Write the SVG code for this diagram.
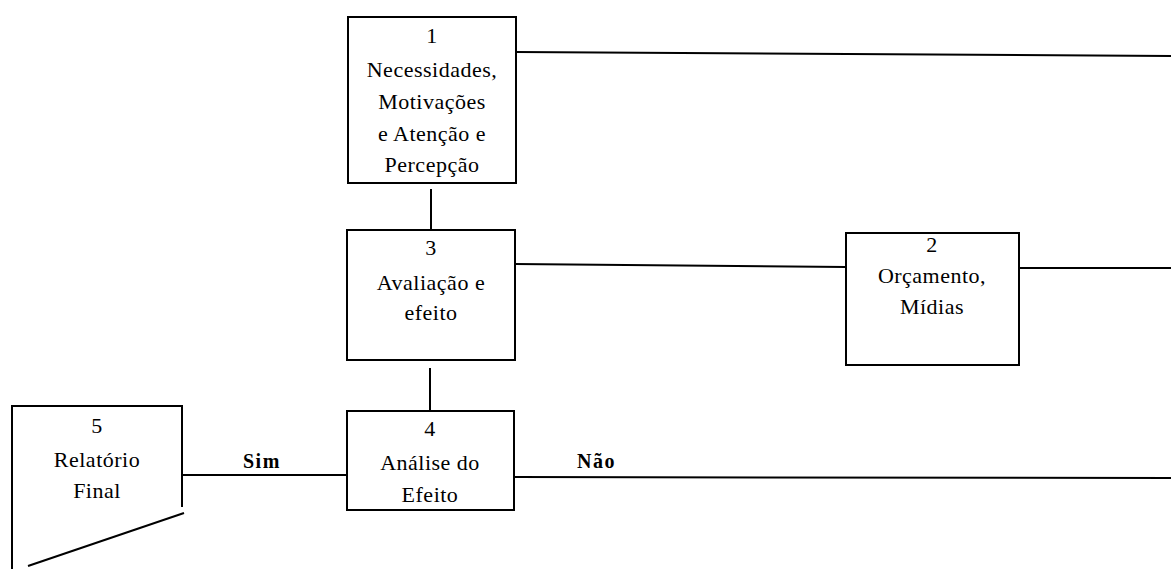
<svg xmlns="http://www.w3.org/2000/svg" width="1171" height="569" viewBox="0 0 1171 569">
<style>
.box{fill:#fff;stroke:#000;stroke-width:2}
.ln{fill:none;stroke:#000;stroke-width:2}
.t{font-family:"Liberation Serif","Times New Roman",serif;font-size:22px;fill:#000;text-anchor:middle;letter-spacing:0.5px}
.lb{font-family:"Liberation Serif","Times New Roman",serif;font-size:20px;font-weight:bold;fill:#000;letter-spacing:1.5px}
</style>
<rect width="1171" height="569" fill="#fff"/>
<g id="connectors">
<line class="ln" x1="516" y1="52" x2="1171" y2="56"/>
<line class="ln" x1="431" y1="189" x2="431" y2="229"/>
<line class="ln" x1="515" y1="264" x2="846" y2="267"/>
<line class="ln" x1="1019" y1="268" x2="1171" y2="268"/>
<line class="ln" x1="430" y1="368" x2="430" y2="411"/>
<line class="ln" x1="182" y1="475" x2="347" y2="475"/>
<line class="ln" x1="514" y1="477" x2="1171" y2="478"/>
<text class="lb" x="243" y="468">Sim</text>
<text class="lb" x="577" y="468">Não</text>
</g>
<g id="node1">
<rect class="box" x="348" y="17" width="168" height="166"/>
<text class="t" x="432" y="43">1</text>
<text class="t" x="432" y="77">Necessidades,</text>
<text class="t" x="432" y="109">Motivações</text>
<text class="t" x="432" y="141">e Atenção e</text>
<text class="t" x="432" y="172">Percepção</text>
</g>
<g id="node3">
<rect class="box" x="347" y="230" width="168" height="130"/>
<text class="t" x="431" y="255">3</text>
<text class="t" x="431" y="290">Avaliação e</text>
<text class="t" x="431" y="320">efeito</text>
</g>
<g id="node2">
<rect class="box" x="846" y="233" width="173" height="132"/>
<text class="t" x="932" y="252">2</text>
<text class="t" x="932" y="283">Orçamento,</text>
<text class="t" x="932" y="314">Mídias</text>
</g>
<g id="node4">
<rect class="box" x="347" y="411" width="167" height="99"/>
<text class="t" x="430" y="436">4</text>
<text class="t" x="430" y="470">Análise do</text>
<text class="t" x="430" y="502">Efeito</text>
</g>
<g id="node5">
<path class="ln" d="M12 569 V406 H182 V507"/>
<line class="ln" x1="184" y1="513" x2="28" y2="566"/>
<text class="t" x="97" y="433">5</text>
<text class="t" x="97" y="467">Relatório</text>
<text class="t" x="97" y="498">Final</text>
</g>
</svg>
